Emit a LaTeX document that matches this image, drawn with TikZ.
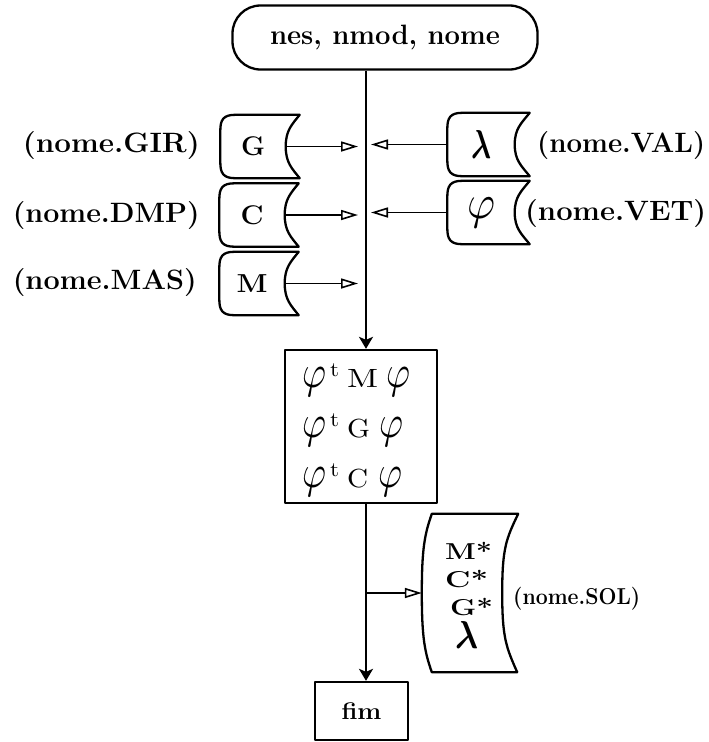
\documentclass[tikz,border=0pt]{standalone}
\usepackage{fontspec}
\usepackage{bm}
\usetikzlibrary{arrows.meta,calc}
% a text set at a given size and brought to a given width
\newcommand\fitw[3]{\resizebox{#1}{\height}{\fontsize{#2}{#2}\selectfont #3}}
% a glyph scaled to a given width and total height
\newcommand\fitto[3]{\resizebox*{#1}{#2}{#3}}
\newcommand\bphi{\fitto{24pt}{29pt}{$\varphi$}}
% one line of the product box: phi^t X phi
\newcommand\prodline[2]{\bphi\kern4pt\raisebox{11pt}{\fitto{9pt}{13pt}{t}}\kern8pt#1\kern#2\bphi}
\begin{document}
\begin{tikzpicture}[x=1pt,y=-1pt,
  lbl/.style={font=\bfseries, inner sep=0pt},
  store/.style={minimum width=65pt, minimum height=63pt, inner sep=0pt, font=\bfseries},
  wstore/.style={store, minimum width=67pt},
  outline/.style={line width=2.3pt, line join=round},
  feed/.style={line width=1.6pt, -{Triangle[open,length=17pt,width=10pt]}},
  flow/.style={line width=2.1pt, -{Stealth[length=12pt,width=14pt,inset=3pt]}}]
\useasboundingbox (0,0) rectangle (709,742);

% start terminal
\node[draw, outline, rounded corners=28pt, minimum width=305pt, minimum height=64pt, font=\bfseries]
  (top) at (385,37.5) {\fitw{230pt}{28}{nes, nmod, nome}};
\coordinate (sp) at (366,0);

% input files
\node[store] (g) at (253,146.5) {\fitw{24pt}{27}{G}};
\node[store] (c) at (252,215) {\fitw{23pt}{27}{C}};
\node[store] (m) at (252,283.5) {\fitw{31pt}{26}{M}};
\node[wstore] (lam) at (481,144.5) {\fitto{20pt}{28pt}{$\bm{\lambda}$}};
\node[wstore] (phi) at (481,212.5) {\fitto{28pt}{30pt}{$\varphi$}};

\foreach \n/\ext in {g/14,c/14,m/14,lam/15,phi/15} {
  \draw[outline] ($(\n.north east)+(\ext,0)$) -- ($(\n.north west)+(15,0)$)
    .. controls ($(\n.north west)+(3,0)$) and ($(\n.north west)+(0,5)$) .. ($(\n.north west)+(0,16)$)
    -- ($(\n.south west)+(0,-16)$)
    .. controls ($(\n.south west)+(0,-5)$) and ($(\n.south west)+(3,0)$) .. ($(\n.south west)+(15,0)$)
    -- ($(\n.south east)+(\ext,0)$)
    .. controls ($(\n.south east)+(\ext-8,-10)$) and ($(\n.east)+(0,16)$) .. (\n.east)
    .. controls ($(\n.east)+(0,-16)$) and ($(\n.north east)+(\ext-8,10)$) .. cycle;
}

% file names
\node[lbl, anchor=east] (gir) at (200,146) {\fitw{177pt}{28}{(nome.GIR)}};
\node[lbl, anchor=east] (dmp) at (200,216) {\fitw{187pt}{28}{(nome.DMP)}};
\node[lbl, anchor=east] (mas) at (197,283) {\fitw{184pt}{28}{(nome.MAS)}};
\node[lbl, anchor=west] (val) at (537,146) {\fitw{168pt}{28}{(nome.VAL)}};
\node[lbl, anchor=west] (vet) at (525,214) {\fitw{181pt}{28}{(nome.VET)}};

% products computed
\node[draw, outline, minimum width=152pt, minimum height=153pt, inner sep=0pt] (box) at (361,426.5) {};
\begin{scope}[every node/.style={inner sep=0pt, anchor=base west}]
  \node (pm) at (302,387) {\prodline{\fitto{31pt}{18pt}{M}}{8pt}};
  \node (pg) at (302,437) {\prodline{\fitto{23pt}{19pt}{G}}{9pt}};
  \node (pc) at (302,487) {\prodline{\fitto{21pt}{19pt}{C}}{10pt}};
\end{scope}

% output file
\node[minimum width=80pt, minimum height=158pt, inner sep=0pt] (sol) at (462,593) {};
\begin{scope}[every node/.style={font=\bfseries, inner sep=0pt, anchor=base west}]
  \node (sm) at (445,559) {\fitw{47pt}{23}{M*}};
  \node (sc) at (445,587) {\fitw{43pt}{23}{C*}};
  \node (sg) at (450,615) {\fitw{43pt}{23}{G*}};
  \node (sl) at (455,648) {\fitto{23pt}{27pt}{$\bm{\lambda}$}};
\end{scope}
\draw[outline] ($(sol.north east)+(16,0)$) -- ($(sol.north west)+(10,0)$)
  .. controls ($(sol.north west)+(3,20)$) and ($(sol.west)+(0,-45)$) .. (sol.west)
  .. controls ($(sol.west)+(0,45)$) and ($(sol.south west)+(3,-20)$) .. ($(sol.south west)+(10,0)$)
  -- ($(sol.south east)+(15,0)$)
  .. controls ($(sol.south east)+(4,-25)$) and ($(sol.east)+(0,45)$) .. (sol.east)
  .. controls ($(sol.east)+(0,-45)$) and ($(sol.north east)+(4,25)$) .. cycle;
\node[lbl, anchor=west] (solname) at (513,599) {\fitw{127pt}{23}{(nome.SOL)}};

% end terminal
\node[draw, outline, minimum width=93pt, minimum height=58pt, font=\bfseries]
  (fim) at (361.5,711) {\fitw{40pt}{24}{fim}};

% main flow
\draw[flow] (top.south -| sp) -- (box.north -| sp);
\draw[flow] (box.south -| sp) -- (fim.north -| sp);

% file feeds
\draw[feed] (g.east) -- ($(g.east -| sp)+(-8,0)$);
\draw[feed] (c.east) -- ($(c.east -| sp)+(-8,0)$);
\draw[feed] (m.east) -- ($(m.east -| sp)+(-8,0)$);
\draw[feed] (lam.west) -- ($(lam.west -| sp)+(5,0)$);
\draw[feed] (phi.west) -- ($(phi.west -| sp)+(5,0)$);
\draw[feed] (sp |- sol.west) -- (sol.west);
\end{tikzpicture}
\end{document}
